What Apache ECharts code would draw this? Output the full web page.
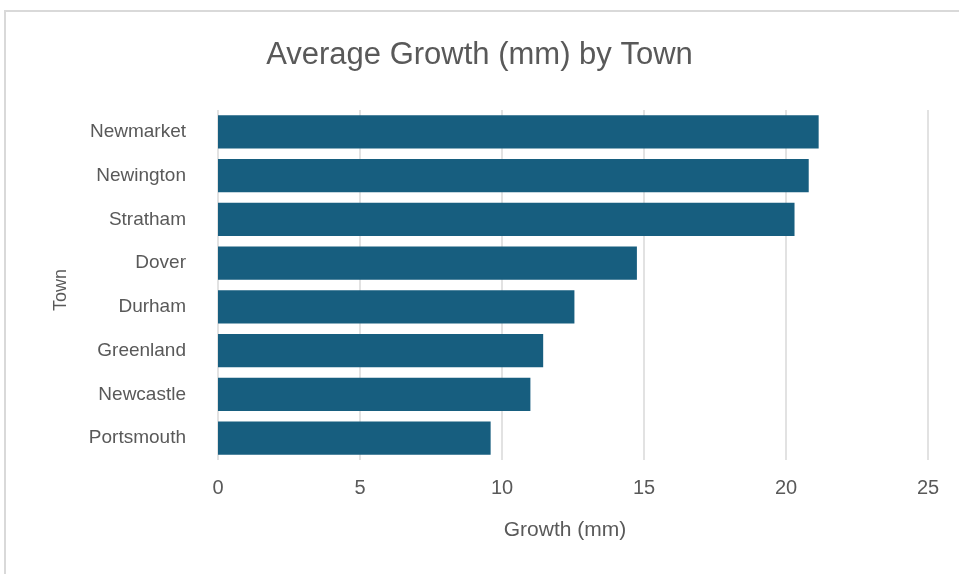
<!DOCTYPE html>
<html>
<head>
<meta charset="utf-8">
<style>
  html, body { margin: 0; padding: 0; background: #fff; }
  #chart { width: 959px; height: 574px; }
</style>
<script src="https://cdn.jsdelivr.net/npm/echarts@6/dist/echarts.min.js"></script>
</head>
<body>
<div id="chart"></div>
<script>
// towns, top to bottom as drawn
const towns = ['Newmarket', 'Newington', 'Stratham', 'Dover', 'Durham', 'Greenland', 'Newcastle', 'Portsmouth']
// average growth in mm
const growth = [21.15, 20.8, 20.3, 14.75, 12.55, 11.45, 11.0, 9.6]
const xTicks = [0, 5, 10, 15, 20, 25]

const font = "'Liberation Sans Narrow', 'Arial Narrow', 'Liberation Sans', sans-serif"
const textColor = '#595959'

const chart = echarts.init(document.getElementById('chart'))
const options = {
  animation: false,
  // light frame round the chart area (top and left edges visible)
  graphic: [
    {
      type: 'rect',
      shape: { x: 5, y: 11, width: 1000, height: 700 },
      style: { fill: 'none', stroke: '#d9d9d9', lineWidth: 2 },
      silent: true,
    },
  ],
  title: {
    text: 'Average Growth (mm) by Town',
    left: 'center',
    top: 35,
    textStyle: {
      fontFamily: font,
      fontSize: 31,
      fontWeight: 'normal',
      color: textColor,
    },
  },
  grid: {
    left: 218,
    right: 31,
    top: 110,
    bottom: 114,
  },
  xAxis: {
    type: 'value',
    min: xTicks[0],
    max: xTicks[xTicks.length - 1],
    interval: 5,
    name: 'Growth (mm)',
    nameLocation: 'middle',
    nameGap: 60,
    nameTextStyle: { fontFamily: font, fontSize: 21, color: textColor, padding: [0, 16, 0, 0] },
    axisLine: { show: false },
    axisTick: { show: false },
    axisLabel: { margin: 18, fontFamily: font, fontSize: 20, color: textColor },
    splitLine: { show: true, lineStyle: { color: '#d9d9d9', width: 1.5 } },
  },
  yAxis: {
    type: 'category',
    data: towns,
    inverse: true,
    name: 'Town',
    nameLocation: 'middle',
    nameGap: 148,
    nameRotate: 90,
    nameTextStyle: { fontFamily: font, fontSize: 18, color: textColor, padding: [0, 10, 0, 0] },
    axisLine: { show: false },
    axisTick: { show: false },
    axisLabel: { margin: 32, fontFamily: font, fontSize: 19, color: textColor },
  },
  series: [
    {
      type: 'bar',
      data: growth,
      barCategoryGap: '24%',
      itemStyle: { color: '#175e7f' },
    },
  ],
}
chart.setOption(options)
</script>
</body>
</html>
